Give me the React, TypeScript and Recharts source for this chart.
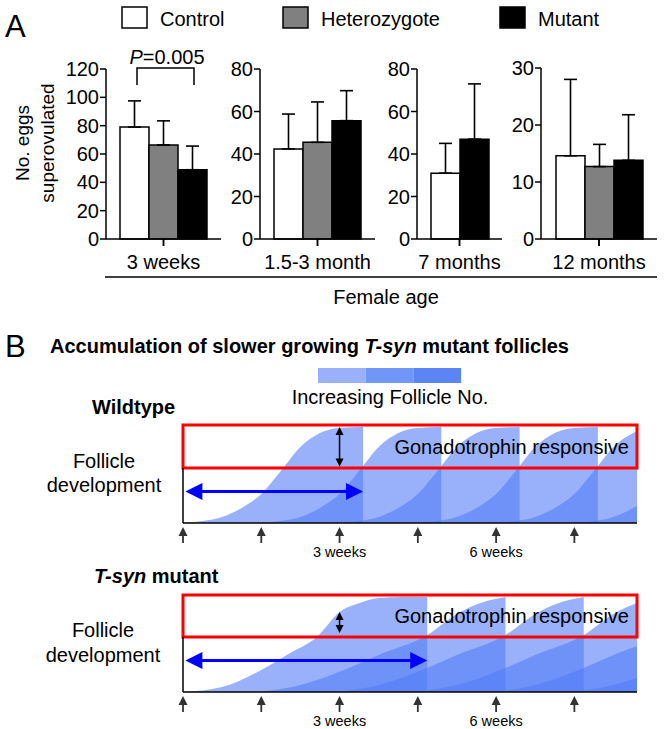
import React from 'react';
import {
  BarChart,
  Bar,
  XAxis,
  YAxis,
  ErrorBar,
  ComposedChart,
  Area,
  ReferenceArea,
  ReferenceLine,
} from 'recharts';

const FONT = '"Liberation Sans", Arial, Helvetica, sans-serif';

// ---- Panel A data ----
const ageGroups = ['3 weeks', '1.5-3 month', '7 months', '12 months'];
const controlMeans = [79, 42.4, 31, 14.6];
const controlErrs = [18.5, 16.4, 14, 13.4];
const hetMeans: (number | null)[] = [66.4, 45.5, null, 12.7];
const hetErrs: (number | null)[] = [17, 19, null, 3.9];
const mutantMeans = [48.9, 55.7, 47, 13.8];
const mutantErrs = [16.7, 14.1, 26, 8];
const yMaxes = [120, 80, 80, 30];
const yTickSets = [
  [0, 20, 40, 60, 80, 100, 120],
  [0, 20, 40, 60, 80],
  [0, 20, 40, 60, 80],
  [0, 10, 20, 30],
];

// ---- Panel B data (x in 1.5-week steps, height in % of full size) ----
const weekTicks = [0, 1, 2, 3, 4, 5];
const weekLabels = ['', '', '3 weeks', '', '6 weeks', ''];
const wtStarts = [0, 1, 2, 3, 4, 5];
const wtGrowthT = [0, 0.25, 0.5, 0.75, 1.0, 1.25, 1.5, 1.75, 2.0, 2.3];
const wtGrowthH = [0, 2, 6, 15, 29, 52, 76, 90, 95, 96];
const mutFirstT = [0, 0.5, 1.0, 1.37, 1.71, 2.0, 2.26, 2.5, 2.8, 3.12];
const mutFirstH = [0, 5, 22, 39, 55, 80, 89, 94, 95, 95];
const mutLaterStarts = [1, 2, 3, 4, 5];
const mutLaterT = [0, 0.5, 1.12, 1.5, 2.12, 2.5, 2.8, 3.12];
const mutLaterH = [0, 7, 24, 37, 57, 78, 89, 95];

const barLayout = [
  { left: 106, right: 221, top: 69 },
  { left: 260, right: 375, top: 69 },
  { left: 417, right: 502, top: 69 },
  { left: 541, right: 657, top: 68 },
];
const BASE_A = 239;

function AgeChart({ i }: { i: number }) {
  const lay = barLayout[i];
  const YW = 50;
  const MT = 10;
  const MR = 2;
  const XH = 36;
  const row: any = {
    group: ageGroups[i],
    control: controlMeans[i],
    controlErr: [0, controlErrs[i]],
    het: hetMeans[i],
    hetErr: [0, hetErrs[i] ?? 0],
    mutant: mutantMeans[i],
    mutantErr: [0, mutantErrs[i]],
  };
  const plotW = lay.right - lay.left;
  const plotH = BASE_A - lay.top;
  const eb = { width: 6.5, stroke: '#000', strokeWidth: 1.6, direction: 'y' as const };
  return (
    <div style={{ position: 'absolute', left: lay.left - YW, top: lay.top - MT }}>
      <BarChart
        width={YW + plotW + MR}
        height={MT + plotH + XH}
        data={[row]}
        margin={{ top: MT, right: MR, bottom: 0, left: 0 }}
        barGap={0}
        barSize={29}
      >
        <XAxis xAxisId="cat" dataKey="group" hide height={0} />
        <XAxis
          xAxisId="edge"
          type="number"
          domain={[0, 1]}
          ticks={[0, 1]}
          interval={0}
          allowDataOverflow
          tick={() => <g />}
          tickSize={7}
          tickLine={{ stroke: '#000', strokeWidth: 1.5 }}
          axisLine={{ stroke: '#000', strokeWidth: 1.5 }}
          height={XH}
          label={{ value: ageGroups[i], position: 'insideTop', offset: 16, fill: '#000', fontSize: 20 }}
        />
        <YAxis
          domain={[0, yMaxes[i]]}
          ticks={yTickSets[i]}
          interval={0}
          width={YW}
          tickSize={6}
          tickMargin={1}
          tick={{ fill: '#000', fontSize: 20 }}
          tickLine={{ stroke: '#000', strokeWidth: 1.5 }}
          axisLine={{ stroke: '#000', strokeWidth: 1.5 }}
        />
        <Bar xAxisId="cat" dataKey="control" fill="#fff" stroke="#000" strokeWidth={1.5} isAnimationActive={false}>
          <ErrorBar dataKey="controlErr" {...eb} />
        </Bar>
        {hetMeans[i] != null && (
          <Bar xAxisId="cat" dataKey="het" fill="#808080" stroke="#000" strokeWidth={1.5} isAnimationActive={false}>
            <ErrorBar dataKey="hetErr" {...eb} />
          </Bar>
        )}
        <Bar xAxisId="cat" dataKey="mutant" fill="#000" stroke="#000" strokeWidth={1.5} isAnimationActive={false}>
          <ErrorBar dataKey="mutantErr" {...eb} />
        </Bar>
      </BarChart>
    </div>
  );
}

type Cohort = { key: string; t: number[]; h: number[] };

function makeCohorts(prefix: string, starts: number[], offsets: number[], heights: number[]): Cohort[] {
  return starts.map((s, i) => ({ key: `${prefix}${i}`, t: offsets.map((o) => s + o), h: heights }));
}

function buildTable(cohorts: Cohort[]) {
  const rows = new Map<string, any>();
  cohorts.forEach((c) =>
    c.t.forEach((t, j) => {
      const k = t.toFixed(3);
      if (!rows.has(k)) rows.set(k, { t: Number(k) });
      rows.get(k)[c.key] = c.h[j];
    })
  );
  return [...rows.values()].sort((a, b) => a.t - b.t);
}

const wtCohorts = makeCohorts('w', wtStarts, wtGrowthT, wtGrowthH);
const mutCohorts = [
  { key: 'm0', t: mutFirstT, h: mutFirstH },
  ...makeCohorts('m', mutLaterStarts, mutLaterT, mutLaterH).map((c, i) => ({ ...c, key: `m${i + 1}` })),
];

const doubleArrow = (color: string, sw: number, head: number, headW: number) => (props: any) => {
  const { x1, y1, x2, y2 } = props;
  const dx = x2 - x1;
  const dy = y2 - y1;
  const len = Math.hypot(dx, dy) || 1;
  const ux = dx / len;
  const uy = dy / len;
  const px = -uy;
  const py = ux;
  const tri = (tx: number, ty: number, dir: number) => {
    const bx = tx - dir * ux * head;
    const by = ty - dir * uy * head;
    return `${tx},${ty} ${bx + (px * headW) / 2},${by + (py * headW) / 2} ${bx - (px * headW) / 2},${by - (py * headW) / 2}`;
  };
  return (
    <g>
      <line
        x1={x1 + ux * head * 0.8}
        y1={y1 + uy * head * 0.8}
        x2={x2 - ux * head * 0.8}
        y2={y2 - uy * head * 0.8}
        stroke={color}
        strokeWidth={sw}
      />
      <polygon points={tri(x2, y2, 1)} fill={color} />
      <polygon points={tri(x1, y1, -1)} fill={color} />
    </g>
  );
};

function ArrowTick(props: any) {
  const { x, y, payload } = props;
  const label = weekLabels[payload.value] ?? '';
  return (
    <g>
      <line x1={x} y1={y + 11} x2={x} y2={y + 20} stroke="#333" strokeWidth={1.8} />
      <polygon points={`${x},${y + 4} ${x - 4.5},${y + 13} ${x + 4.5},${y + 13}`} fill="#333" />
      {label ? (
        <text x={x} y={y + 34} textAnchor="middle" fontSize={14.5} fill="#000">
          {label}
        </text>
      ) : null}
    </g>
  );
}

function FollicleChart({
  top,
  cohorts,
  cutEnd,
  arrowTop,
  arrowBottom,
  boxTop,
}: {
  top: number;
  cohorts: Cohort[];
  cutEnd: number;
  arrowTop: number;
  arrowBottom: number;
  boxTop: number;
}) {
  const data = buildTable(cohorts);
  const M = 5;
  return (
    <div style={{ position: 'absolute', left: 183 - M, top: top - M }}>
      <ComposedChart width={454 + 2 * M} height={M + 100 + 37} data={data} margin={{ top: M, right: M, left: M, bottom: 0 }}>
        <XAxis
          dataKey="t"
          type="number"
          domain={[0, 5.8]}
          ticks={weekTicks}
          interval={0}
          allowDataOverflow
          tickLine={false}
          tickSize={0}
          tickMargin={0}
          tick={<ArrowTick />}
          axisLine={{ stroke: '#000', strokeWidth: 1.5 }}
          height={37}
        />
        <YAxis domain={[0, 100]} hide allowDataOverflow width={0} />
        {cohorts.map((c) => (
          <Area
            key={c.key}
            dataKey={c.key}
            type="monotone"
            stroke="none"
            fill="#537df7"
            fillOpacity={0.6}
            connectNulls
            dot={false}
            activeDot={false}
            isAnimationActive={false}
          />
        ))}
        <ReferenceLine segment={[{ x: 0, y: 0 }, { x: 0, y: 55 }]} stroke="#000" strokeWidth={1.5} ifOverflow="visible" />
        <ReferenceArea
          x1={0}
          x2={5.8}
          y1={55}
          y2={boxTop}
          fill="none"
          stroke="#ff0000"
          strokeWidth={3}
          ifOverflow="visible"
          label={{ value: 'Gonadotrophin responsive', position: 'insideRight', offset: 8, fontSize: 20, fill: '#000' }}
        />
        <ReferenceLine
          segment={[{ x: 2, y: arrowTop }, { x: 2, y: arrowBottom }]}
          ifOverflow="visible"
          shape={doubleArrow('#000', 1.5, 8, 8)}
        />
        <ReferenceLine
          segment={[{ x: 0.03, y: 31.5 }, { x: cutEnd, y: 31.5 }]}
          ifOverflow="visible"
          shape={doubleArrow('#0000ff', 3, 17, 17)}
        />
      </ComposedChart>
    </div>
  );
}

const legendItems = [
  { label: 'Control', fill: '#fff', x: 122 },
  { label: 'Heterozygote', fill: '#808080', x: 283 },
  { label: 'Mutant', fill: '#000', x: 500 },
];
const gradientColors = ['#98b1fa', '#7096f7', '#5b84f5'];

export default function App() {
  return (
    <div
      style={{
        position: 'absolute',
        left: 0,
        top: 0,
        width: 664,
        height: 729,
        background: '#fff',
        fontFamily: FONT,
        color: '#000',
        overflow: 'hidden',
      }}
    >
      {ageGroups.map((_, i) => (
        <AgeChart key={i} i={i} />
      ))}
      <FollicleChart top={423} cohorts={wtCohorts} cutEnd={wtGrowthT[wtGrowthT.length - 1]} arrowTop={96} arrowBottom={56.5} boxTop={98} />
      <FollicleChart top={592} cohorts={mutCohorts} cutEnd={mutFirstT[mutFirstT.length - 1]} arrowTop={80} arrowBottom={59} boxTop={97} />
      <svg width={664} height={729} style={{ position: 'absolute', left: 0, top: 0, pointerEvents: 'none' }}>
        <text x={5} y={37} fontSize={31}>A</text>
        {legendItems.map((it) => (
          <g key={it.label}>
            <rect x={it.x} y={7} width={25} height={21} fill={it.fill} stroke="#000" strokeWidth={1.5} />
            <text x={it.x + 38} y={26} fontSize={20}>{it.label}</text>
          </g>
        ))}
        <text x={167} y={64} fontSize={20} textAnchor="middle">
          <tspan fontStyle="italic">P</tspan>=0.005
        </text>
        <polyline points="137,85 137,68 194,68 194,85" fill="none" stroke="#000" strokeWidth={1.5} />
        <text transform="translate(29,143) rotate(-90)" fontSize={19} textAnchor="middle">No. eggs</text>
        <text transform="translate(54,143) rotate(-90)" fontSize={19} textAnchor="middle">superovulated</text>
        <line x1={105} y1={277} x2={657} y2={277} stroke="#000" strokeWidth={1.5} />
        <text x={386} y={304} fontSize={20} textAnchor="middle">Female age</text>

        <text x={5} y={357} fontSize={31}>B</text>
        <text x={50} y={353} fontSize={20} fontWeight="bold">
          Accumulation of slower growing <tspan fontStyle="italic">T-syn</tspan> mutant follicles
        </text>
        {gradientColors.map((c, i) => (
          <rect key={c} x={318 + i * 47.7} y={368} width={47.7} height={15} fill={c} />
        ))}
        <text x={390} y={404} fontSize={20} textAnchor="middle">Increasing Follicle No.</text>
        <text x={92} y={414} fontSize={20} fontWeight="bold">Wildtype</text>
        <text x={104} y={468} fontSize={20} textAnchor="middle">Follicle</text>
        <text x={104} y={492} fontSize={20} textAnchor="middle">development</text>
        <text x={94} y={583} fontSize={20} fontWeight="bold">
          <tspan fontStyle="italic">T-syn</tspan> mutant
        </text>
        <text x={103} y={637} fontSize={20} textAnchor="middle">Follicle</text>
        <text x={103} y={662} fontSize={20} textAnchor="middle">development</text>
      </svg>
    </div>
  );
}
